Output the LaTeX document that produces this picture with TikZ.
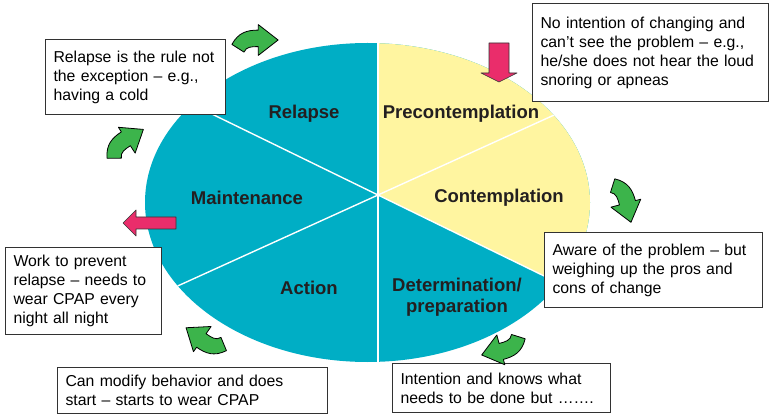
\documentclass[tikz,border=0pt]{standalone}
\usepackage{fontspec}
\setmainfont{Liberation Sans}
\definecolor{pieteal}{RGB}{0,174,197}
\definecolor{pieyellow}{RGB}{255,245,160}
\definecolor{arrowgreen}{RGB}{60,180,75}
\definecolor{arrowpink}{RGB}{234,45,107}
\definecolor{boxline}{RGB}{50,50,50}
\definecolor{labeltext}{RGB}{35,31,32}
\newcommand{\greenturn}[3]{%
  \begin{scope}[shift={(#1,#2)},rotate=#3,scale=1.1]
    \draw [cyclearrow] (-21,4) .. controls (-15,-7) and (-7,-9) .. (3,-9) -- (3,-14) -- (21,0) -- (3,14) -- (3,6) .. controls (-3,6) and (-8,6) .. (-10,11) -- cycle;
  \end{scope}}
\begin{document}
\begin{tikzpicture}[x=1pt,y=-1pt,
  infobox/.style={draw=boxline,line width=1.1pt,fill=white,anchor=north west,align=left,inner xsep=8pt,inner ysep=0pt,font=\fontsize{15.8}{19}\selectfont},
  stagelabel/.style={font=\bfseries\fontsize{18.5}{21}\selectfont,text=labeltext,align=center,inner sep=0pt},
  cyclearrow/.style={fill=arrowgreen,draw=black,line width=0.8pt,line join=round},
  pinkarrow/.style={fill=arrowpink,draw=black!80,line width=0.6pt,line join=round}]
\useasboundingbox (0,0) rectangle (769,414);
\coordinate (pie) at (367.5,202.5);
\coordinate (hub) at (378,195);
\fill [pieteal] (pie) ellipse [x radius=222.5pt,y radius=159.5pt];
\begin{scope}
\clip (pie) ellipse [x radius=222.5pt,y radius=159.5pt];
\fill [pieyellow] (hub) -- (378,0) -- (780,0) -- (780,391) -- cycle;
\draw [white,line width=1.4pt] (378,30) -- (378,380);
\draw [white,line width=1.4pt] (hub) ++(-240,-117) -- ++(480,234);
\draw [white,line width=1.4pt] (hub) ++(-240,109) -- ++(480,-218);
\end{scope}
\node [stagelabel] (relapse) at (304,114) {Relapse};
\node [stagelabel] (precontemplation) at (461,114) {Precontemplation};
\node [stagelabel] (maintenance) at (247,198) {Maintenance};
\node [stagelabel] (contemplation) at (499,198) {Contemplation};
\node [stagelabel] (action) at (309,288) {Action};
\node [stagelabel] (determination) at (457,297) {Determination/\\preparation};
\node [infobox,text width=164pt,minimum height=75pt] (relapsenote) at (45,39) {Relapse is the rule not\\the exception – e.g.,\\having a cold};
\node [infobox,text width=220pt,minimum height=98pt] (precontnote) at (532,3) {No intention of changing and\\can’t see the problem – e.g.,\\he/she does not hear the loud\\snoring or apneas};
\node [infobox,text width=202pt,minimum height=75pt] (contnote) at (544,232) {Aware of the problem – but\\weighing up the pros and\\cons of change};
\node [infobox,text width=202pt,minimum height=49pt] (determnote) at (392,363) {Intention and knows what\\needs to be done but …….};
\node [infobox,text width=254pt,minimum height=46pt] (actionnote) at (57,367) {Can modify behavior and does\\start – starts to wear CPAP};
\node [infobox,text width=140pt,minimum height=87pt] (maintnote) at (5,247) {Work to prevent\\relapse – needs to\\wear CPAP every\\night all night};
\draw [pinkarrow] (489,43) -- (509,43) -- (509,73) -- (517,73) -- (499,82) -- (481,73) -- (489,73) -- cycle;
\draw [pinkarrow] (176,217) -- (136,217) -- (136,210) -- (123,223) -- (136,236) -- (136,229) -- (176,229) -- cycle;
\greenturn{255}{40}{0}
\greenturn{625}{200}{-75}
\greenturn{504}{349}{195}
\greenturn{205}{341}{145}
\greenturn{124}{142}{33}
\end{tikzpicture}
\end{document}
